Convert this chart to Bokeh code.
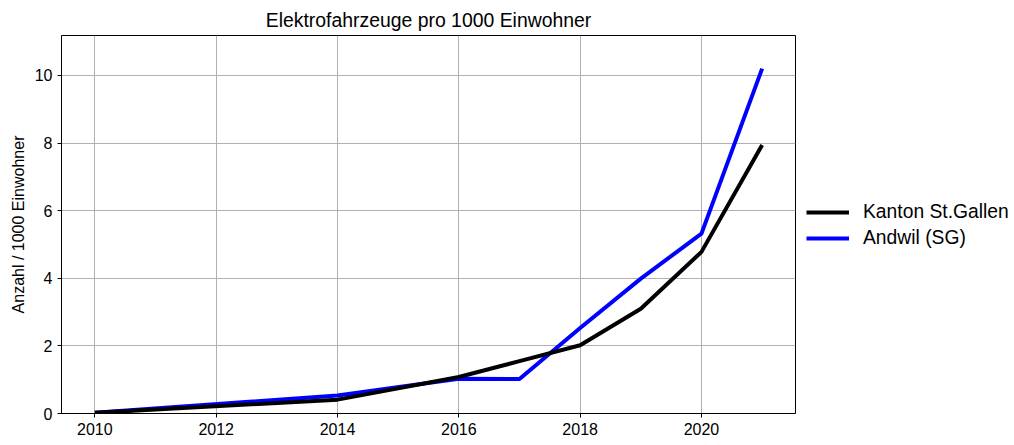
from bokeh.plotting import figure
from bokeh.models import Legend, LegendItem, Range1d, FixedTicker
from bokeh.embed import file_html
from bokeh.resources import INLINE

years = [2010, 2014, 2016, 2017, 2018, 2019, 2020, 2021]
kanton = [0.02, 0.41, 1.08, 1.55, 2.02, 3.10, 4.78, 7.94]
andwil = [0.02, 0.53, 1.03, 1.02, 2.53, 3.99, 5.32, 10.20]
x_ticks = [2010, 2012, 2014, 2016, 2018, 2020]
y_ticks = [0, 2, 4, 6, 8, 10]
title = "Elektrofahrzeuge pro 1000 Einwohner"
ylabel = "Anzahl / 1000 Einwohner"
names = ["Kanton St.Gallen", "Andwil (SG)"]

FONT = "Liberation Sans"

p = figure(frame_width=734, frame_height=378, output_backend="svg", toolbar_location=None,
           x_range=Range1d(2009.45, 2021.55), y_range=Range1d(0, 11.18),
           min_border_left=61, min_border_top=35, min_border_right=200, min_border_bottom=21)

p.title.text = title
p.title.align = "center"
p.title.text_font = FONT
p.title.text_font_size = "19.4px"
p.title.text_font_style = "normal"
p.title.text_color = "black"

for ax in (p.xaxis[0], p.yaxis[0]):
    ax.major_label_text_font = FONT
    ax.major_label_text_font_size = "16px"
    ax.major_label_text_color = "black"
    ax.minor_tick_line_color = None
    ax.major_tick_out = 4
    ax.major_tick_in = 0
    ax.axis_line_color = "black"
    ax.major_tick_line_color = "black"
p.xaxis[0].ticker = FixedTicker(ticks=x_ticks)
p.yaxis[0].ticker = FixedTicker(ticks=y_ticks)
p.yaxis[0].axis_label = ylabel
p.yaxis[0].axis_label_text_font = FONT
p.yaxis[0].axis_label_text_font_size = "16px"
p.yaxis[0].axis_label_text_font_style = "normal"
p.yaxis[0].axis_label_text_color = "black"

p.grid.grid_line_color = "#b0b0b0"
p.grid.grid_line_width = 1
p.grid.grid_line_alpha = 1
p.outline_line_color = "black"
p.outline_line_width = 1
p.outline_line_alpha = 1

rb = p.line(years, andwil, line_color="blue", line_width=4)
rk = p.line(years, kanton, line_color="black", line_width=4)

legend = Legend(items=[LegendItem(label=names[0], renderers=[rk]),
                       LegendItem(label=names[1], renderers=[rb])],
                location=(11, 164), border_line_color=None, background_fill_alpha=0,
                label_text_font=FONT, label_text_font_size="19.3px", label_text_color="black",
                glyph_width=43, glyph_height=20, label_height=20, spacing=4,
                label_standoff=14, padding=4, margin=0)
p.add_layout(legend, "right")

open("out.html", "w").write(file_html(p, INLINE))
